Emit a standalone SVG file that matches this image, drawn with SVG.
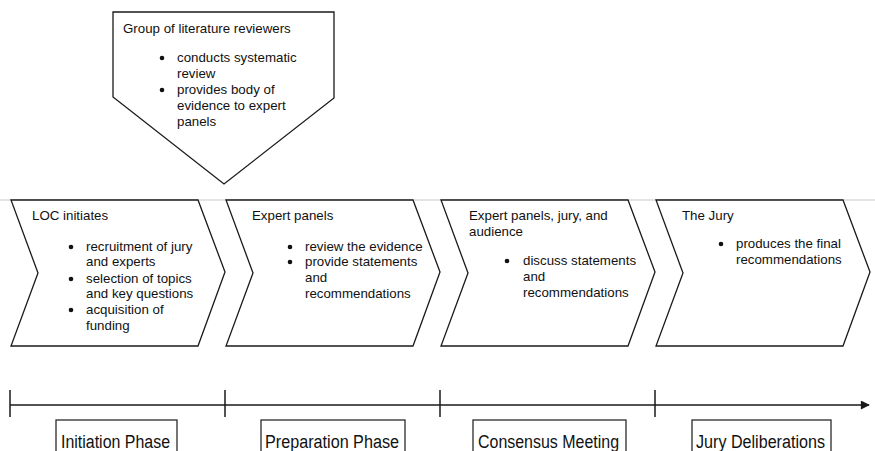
<svg xmlns="http://www.w3.org/2000/svg" width="875" height="451" viewBox="0 0 875 451">
<style>
  .shape { fill: #ffffff; stroke: #1a1a1a; stroke-width: 1.3; stroke-linejoin: miter; }
  .t { font-family: "Liberation Sans", Arial, sans-serif; font-size: 13.3px; fill: #111; }
  .phase { font-family: "Liberation Sans", Arial, sans-serif; font-size: 18px; fill: #111; }
  .axis { stroke: #1a1a1a; stroke-width: 1.5; fill: none; }
  .box { fill: #ffffff; stroke: #1a1a1a; stroke-width: 1.2; }
</style>
<defs>
  <marker id="arrow" viewBox="0 0 10 10" refX="9" refY="5" markerWidth="11" markerHeight="9" markerUnits="userSpaceOnUse" orient="auto">
    <path d="M0,0 L10,5 L0,10 z" fill="#1a1a1a"/>
  </marker>
</defs>
<rect x="0" y="0" width="875" height="451" fill="#ffffff"/>
<line x1="0" y1="200" x2="875" y2="200" stroke="#c8c8c8" stroke-width="1"/>

<g id="node-reviewers">
  <path class="shape" d="M113,12 L334,12 L334,98 L224,184 L113,97 Z"/>
  <text class="t" x="123" y="33">Group of literature reviewers</text>
  <circle cx="162" cy="58" r="2.3" fill="#111"/>
  <text class="t" x="177" y="62">conducts systematic</text>
  <text class="t" x="177" y="78">review</text>
  <circle cx="162" cy="90" r="2.3" fill="#111"/>
  <text class="t" x="177" y="94">provides body of</text>
  <text class="t" x="177" y="110">evidence to expert</text>
  <text class="t" x="177" y="126">panels</text>
</g>

<g id="node-loc">
  <path class="shape" d="M11,200 L198,200 L225,272 L198,346 L11,346 L38,273 Z"/>
  <text class="t" x="32" y="220">LOC initiates</text>
  <circle cx="71" cy="247" r="2.3" fill="#111"/>
  <text class="t" x="86" y="251">recruitment of jury</text>
  <text class="t" x="86" y="266">and experts</text>
  <circle cx="71" cy="279" r="2.3" fill="#111"/>
  <text class="t" x="86" y="283">selection of topics</text>
  <text class="t" x="86" y="298">and key questions</text>
  <circle cx="71" cy="310" r="2.3" fill="#111"/>
  <text class="t" x="86" y="314">acquisition of</text>
  <text class="t" x="86" y="330">funding</text>
</g>

<g id="node-expert">
  <path class="shape" d="M226,200 L413,200 L440,272 L413,346 L226,346 L253,273 Z"/>
  <text class="t" x="252" y="220">Expert panels</text>
  <circle cx="290" cy="247" r="2.3" fill="#111"/>
  <text class="t" x="305" y="251">review the evidence</text>
  <circle cx="290" cy="262" r="2.3" fill="#111"/>
  <text class="t" x="305" y="266">provide statements</text>
  <text class="t" x="305" y="282">and</text>
  <text class="t" x="305" y="298">recommendations</text>
</g>

<g id="node-consensus">
  <path class="shape" d="M441,200 L628,200 L655,272 L628,346 L441,346 L468,273 Z"/>
  <text class="t" x="469" y="220">Expert panels, jury, and</text>
  <text class="t" x="469" y="236">audience</text>
  <circle cx="507" cy="261" r="2.3" fill="#111"/>
  <text class="t" x="523" y="265">discuss statements</text>
  <text class="t" x="523" y="281">and</text>
  <text class="t" x="523" y="297">recommendations</text>
</g>

<g id="node-jury">
  <path class="shape" d="M656,200 L843,200 L870,272 L843,346 L656,346 L683,273 Z"/>
  <text class="t" x="682" y="220">The Jury</text>
  <circle cx="721" cy="244" r="2.3" fill="#111"/>
  <text class="t" x="736" y="248">produces the final</text>
  <text class="t" x="736" y="264">recommendations</text>
</g>

<g id="connectors">
  <line class="axis" x1="10" y1="405" x2="869" y2="405" marker-end="url(#arrow)"/>
  <line class="axis" x1="10" y1="390" x2="10" y2="417"/>
  <line class="axis" x1="225" y1="390" x2="225" y2="417"/>
  <line class="axis" x1="440" y1="390" x2="440" y2="417"/>
  <line class="axis" x1="655" y1="390" x2="655" y2="417"/>
</g>

<g id="phase-initiation">
  <rect class="box" x="56" y="420" width="121" height="40"/>
  <text class="phase" x="61" y="448" textLength="109" lengthAdjust="spacingAndGlyphs">Initiation Phase</text>
</g>
<g id="phase-preparation">
  <rect class="box" x="261" y="420" width="144" height="40"/>
  <text class="phase" x="265" y="448" textLength="134" lengthAdjust="spacingAndGlyphs">Preparation Phase</text>
</g>
<g id="phase-consensus">
  <rect class="box" x="473" y="420" width="153" height="40"/>
  <text class="phase" x="478" y="448" textLength="141" lengthAdjust="spacingAndGlyphs">Consensus Meeting</text>
</g>
<g id="phase-jury">
  <rect class="box" x="692" y="420" width="139" height="40"/>
  <text class="phase" x="696" y="448" textLength="129" lengthAdjust="spacingAndGlyphs">Jury Deliberations</text>
</g>
</svg>
